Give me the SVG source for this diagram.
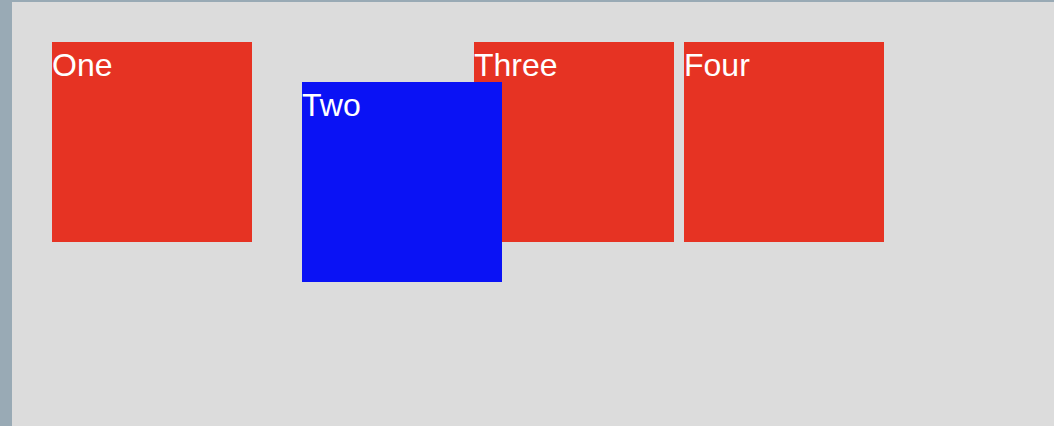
<svg xmlns="http://www.w3.org/2000/svg" width="1054" height="426" viewBox="0 0 1054 426">
<style>
.box{fill:#e63323}
.blue{fill:#0a12f5}
.lbl{font-family:"Liberation Sans",Arial,sans-serif;font-size:32px;fill:#ffffff}
</style>
<rect x="0" y="0" width="1054" height="426" fill="#dcdcdc"/>
<rect x="0" y="0" width="1054" height="2" fill="#99aab5"/>
<rect x="0" y="0" width="12" height="426" fill="#99aab5"/>
<g id="connectors"></g>
<g id="one"><rect class="box" x="52" y="42" width="200" height="200"/><text class="lbl" x="52" y="76">One</text></g>
<g id="three"><rect class="box" x="474" y="42" width="200" height="200"/><text class="lbl" x="474" y="76">Three</text></g>
<g id="four"><rect class="box" x="684" y="42" width="200" height="200"/><text class="lbl" x="684" y="76">Four</text></g>
<g id="two"><rect class="blue" x="302" y="82" width="200" height="200"/><text class="lbl" x="302" y="116">Two</text></g>
</svg>
